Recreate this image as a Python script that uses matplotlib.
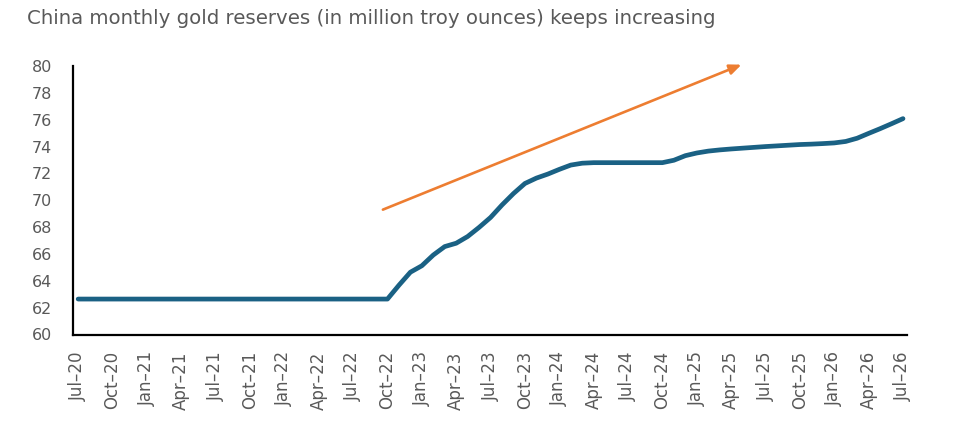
import matplotlib
matplotlib.use("Agg")
import matplotlib.pyplot as plt
import numpy as np

# ---- data ----
months = ["Jul", "Aug", "Sep", "Oct", "Nov", "Dec", "Jan", "Feb", "Mar", "Apr", "May", "Jun"]
start_year = 20
flat_reserves = [62.64] * 28  # Jul-20 .. Oct-22
buying_2022_24 = [63.67, 64.64, 65.12, 65.92, 66.55, 66.80, 67.30, 67.98, 68.72,
                  69.65, 70.50, 71.25, 71.65, 71.95, 72.30, 72.62, 72.76, 72.80]  # Nov-22 .. Apr-24
pause_2024 = [72.80, 72.80, 72.80, 72.80, 72.80, 72.80]  # May-24 .. Oct-24
resume_2024_26 = [72.98, 73.32, 73.52, 73.66, 73.75, 73.82, 73.88, 73.94, 74.00,
                  74.05, 74.10, 74.15, 74.18, 74.22, 74.27, 74.38, 74.62, 74.98,
                  75.33, 75.70, 76.08]  # Nov-24 .. Jul-26
reserves = flat_reserves + buying_2022_24 + pause_2024 + resume_2024_26

labels = []
for i in range(len(reserves)):
    m = months[i % 12]
    yr = start_year + (i + 6) // 12
    labels.append(f"{m}\u2013{yr:02d}")

title = "China monthly gold reserves (in million troy ounces) keeps increasing"
arrow_start = (26.6, 69.3)
arrow_end = (57.9, 80.1)

# ---- figure ----
fig = plt.figure(figsize=(9.55, 4.33), dpi=100)
ax = fig.add_axes([73 / 955, 1 - 334.5 / 433, (907 - 73) / 955, (334.5 - 66) / 433])

x = np.arange(len(reserves))
ax.plot(x, reserves, color="#1A6184", lw=3.4, solid_capstyle="round",
        solid_joinstyle="round")

ax.annotate("", xy=arrow_end, xytext=arrow_start,
            arrowprops=dict(arrowstyle="-|>,head_length=0.7,head_width=0.3",
                            color="#ED7D31", lw=1.9, shrinkA=0, shrinkB=0),
            annotation_clip=False)

ax.set_xlim(-0.45, len(reserves) - 1 + 0.35)
ax.set_ylim(60, 80)
ax.set_yticks(np.arange(60, 81, 2))
ax.set_xticks(x[::3])
ax.set_xticklabels(labels[::3], rotation=90, fontsize=12, color="#595959",
                   family="DejaVu Sans")
for t in ax.get_yticklabels():
    t.set_fontsize(11.5)
    t.set_color("#595959")
    t.set_family("DejaVu Sans")
ax.tick_params(axis="y", length=0, pad=15)
ax.tick_params(axis="x", length=0, pad=12)

for s in ["top", "right"]:
    ax.spines[s].set_visible(False)
for s in ["left", "bottom"]:
    ax.spines[s].set_color("black")
    ax.spines[s].set_linewidth(1.6)

fig.text(27 / 955, 1 - 19 / 433, title, fontsize=14.2, color="#595959",
         family="DejaVu Sans", va="center", ha="left")

fig.savefig("out.png", dpi=100)
